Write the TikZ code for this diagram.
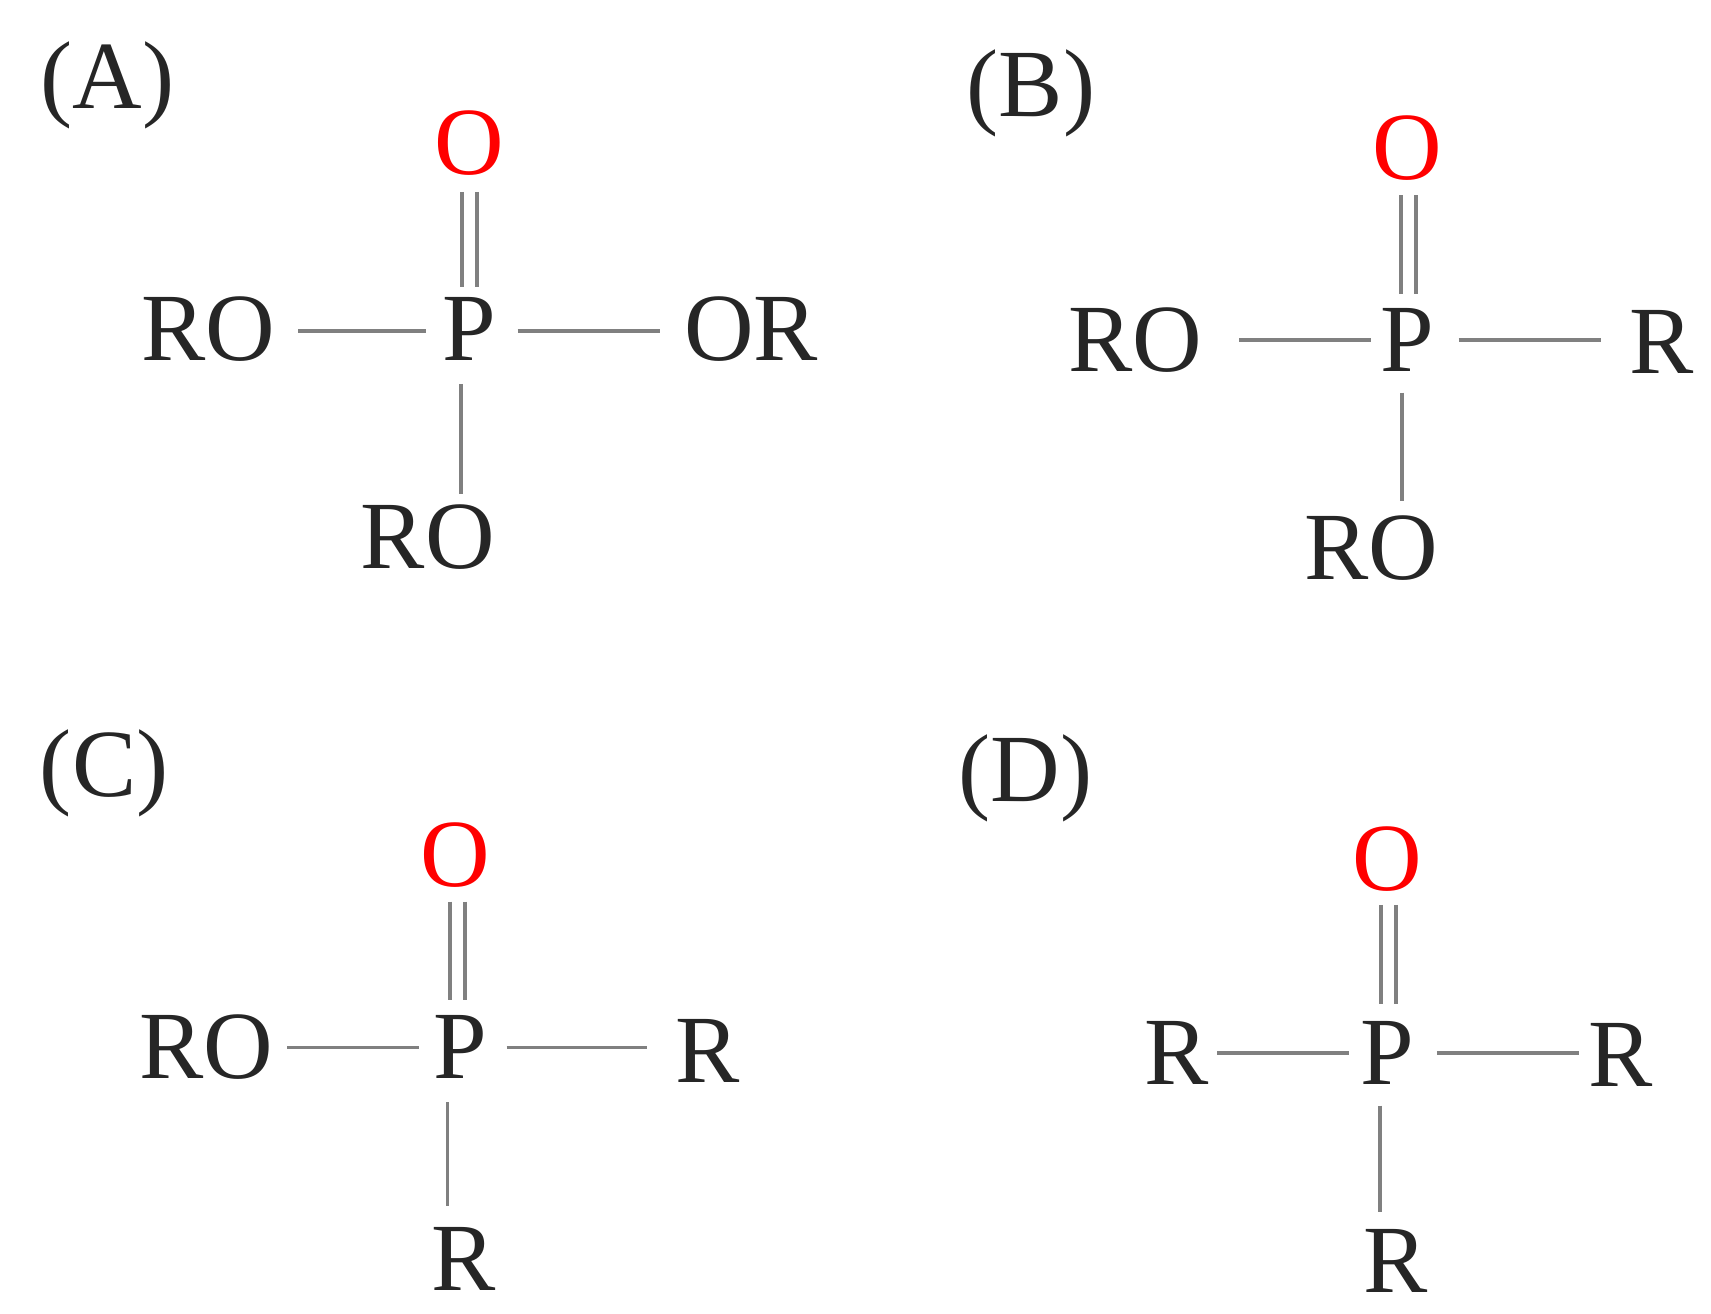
\documentclass[tikz,border=0pt]{standalone}
\usepackage{fontspec}
\setmainfont{Liberation Serif}
\begin{document}
\begin{tikzpicture}[x=0.02cm,y=-0.02cm,
  atom/.style={font=\fontsize{50}{52}\selectfont,text=black!85,inner sep=0pt},
  oxy/.style={atom,text=red},
  lab/.style={font=\fontsize{50}{52}\selectfont,text=black!85,inner sep=0pt},
  bond/.style={line width=2pt,draw=black!50}]
\useasboundingbox (0,0) rectangle (1560,1198);
% A
\node[lab] (la) at (98,78) {(A)};
\node[oxy] (oa) at (428,130) {O};
\node[atom] (pa) at (428,300) {P};
\node[atom] (ra1) at (190,300) {RO};
\node[atom] (ra2) at (685,300) {OR};
\node[atom] (ra3) at (390,490) {RO};
\draw[bond] (272,302) -- (388,302);
\draw[bond] (472,302) -- (602,302);
\draw[bond] (421,175) -- (421,262) (435,175) -- (435,262);
\draw[bond] (420,350) -- (420,450);
% B
\node[lab] (lb) at (940,85) {(B)};
\node[oxy] (ob) at (1283,135) {O};
\node[atom] (pb) at (1283,310) {P};
\node[atom] (rb1) at (1035,310) {RO};
\node[atom] (rb2) at (1515,312) {R};
\node[atom] (rb3) at (1250,500) {RO};
\draw[bond] (1130,310) -- (1250,310);
\draw[bond] (1330,310) -- (1460,310);
\draw[bond] (1277,178) -- (1277,268) (1291,178) -- (1291,268);
\draw[bond] (1278,358) -- (1278,457);
% C
\node[lab] (lc) at (95,705) {(C)};
\node[oxy] (oc) at (415,780) {O};
\node[atom] (pc) at (420,955) {P};
\node[atom] (rc1) at (188,955) {RO};
\node[atom] (rc2) at (645,958) {R};
\node[atom] (rc3) at (423,1148) {R};
\draw[bond] (262,955) -- (382,955);
\draw[bond] (462,955) -- (590,955);
\draw[bond] (410,822) -- (410,912) (424,822) -- (424,912);
\draw[bond] (408,1005) -- (408,1100);
% D
\node[lab] (ld) at (935,710) {(D)};
\node[oxy] (od) at (1265,783) {O};
\node[atom] (pd) at (1265,960) {P};
\node[atom] (rd1) at (1073,960) {R};
\node[atom] (rd2) at (1478,962) {R};
\node[atom] (rd3) at (1272,1150) {R};
\draw[bond] (1110,960) -- (1230,960);
\draw[bond] (1310,960) -- (1440,960);
\draw[bond] (1259,825) -- (1259,915) (1273,825) -- (1273,915);
\draw[bond] (1258,1008) -- (1258,1105);
\end{tikzpicture}
\end{document}
